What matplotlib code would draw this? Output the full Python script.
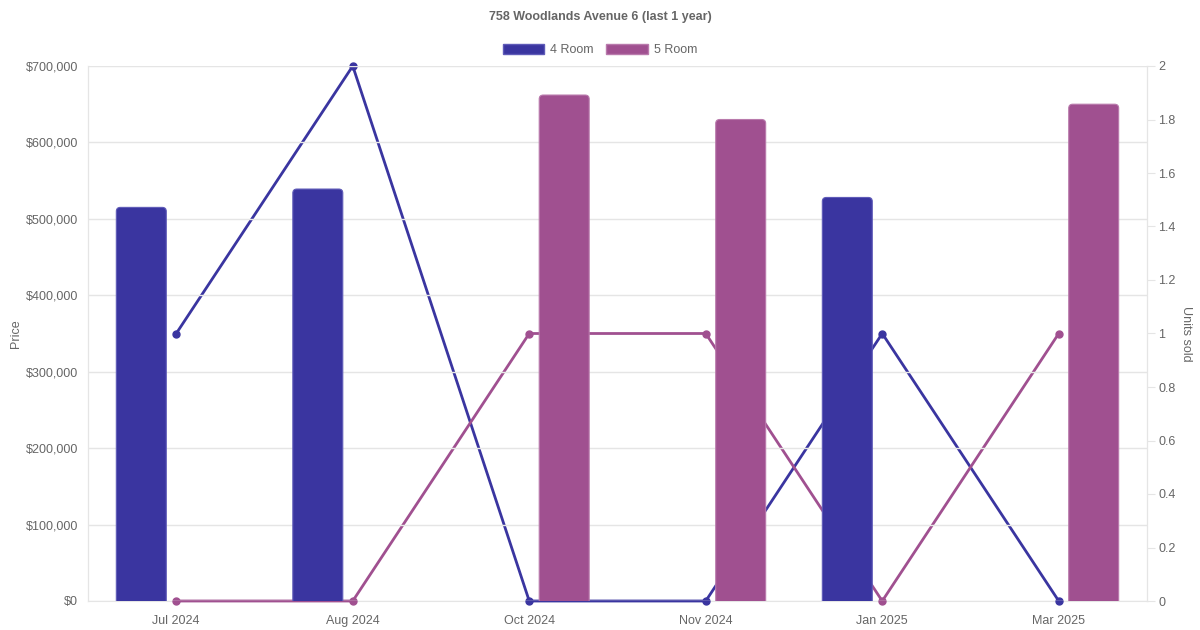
import matplotlib.pyplot as plt
from matplotlib.ticker import FuncFormatter, MultipleLocator
from matplotlib.patches import Patch, FancyBboxPatch
import numpy as np

plt.rcParams['font.family'] = ['Liberation Sans', 'DejaVu Sans']

months = ["Jul 2024", "Aug 2024", "Oct 2024", "Nov 2024", "Jan 2025", "Mar 2025"]
price_4room = [515000, 539000, None, None, 528000, None]
price_5room = [None, None, 662000, 630000, None, 650000]
units_4room = [1, 2, 0, 0, 1, 0]
units_5room = [0, 0, 1, 1, 0, 1]

c4 = '#3a35a0'
c5 = '#a05090'
e4 = '#5f5bb8'
e5 = '#b97aac'
grid_c = '#e5e5e5'
text_c = '#666666'

fig = plt.figure(figsize=(12, 6.3), dpi=100)
ax = fig.add_axes([88/1200, 29/630, 1059/1200, 535/630])
ax2 = ax.twinx()

x = np.arange(len(months))
bw = 0.283
off = 0.198

# units sold lines (right axis), kept under the bars
ax2.plot(x, units_4room, color=c4, lw=2.0, marker='o', ms=5, zorder=3, clip_on=False)
ax2.plot(x, units_5room, color=c5, lw=2.0, marker='o', ms=5, zorder=3, clip_on=False)
ax2.set_ylim(0, 2)
ax2.yaxis.set_major_locator(MultipleLocator(0.2))
ax2.yaxis.set_major_formatter(FuncFormatter(lambda v, p: '0' if v == 0 else '%g' % round(v, 1)))

ax.set_zorder(ax2.get_zorder() + 1)
ax.patch.set_visible(False)
ax.set_xlim(-0.5, len(months) - 0.5)
ax.set_ylim(0, 700000)

x4 = [i - off for i, v in enumerate(price_4room) if v is not None]
v4 = [v for v in price_4room if v is not None]
x5 = [i + off for i, v in enumerate(price_5room) if v is not None]
v5 = [v for v in price_5room if v is not None]
bars4 = ax.bar(x4, v4, width=bw, color=c4, edgecolor=e4, linewidth=0.8, zorder=3)
bars5 = ax.bar(x5, v5, width=bw, color=c5, edgecolor=e5, linewidth=0.8, zorder=3)

# rounded tops like the web chart (~4px radius)
rx = 4 / 176.5
ry = 4 * 700000 / 535
for bars, fc, ec in ((bars4, c4, e4), (bars5, c5, e5)):
    for r in bars:
        bx, bh = r.get_x(), r.get_height()
        r.set_visible(False)
        p = FancyBboxPatch((bx, -ry), r.get_width(), bh + ry,
                           boxstyle='round,pad=0,rounding_size=%f' % rx,
                           mutation_aspect=ry / rx, facecolor=fc, edgecolor=ec,
                           linewidth=0.8, zorder=3)
        ax.add_patch(p)

ax.yaxis.set_major_locator(MultipleLocator(100000))
ax.yaxis.set_major_formatter(FuncFormatter(lambda v, p: '${:,.0f}'.format(v)))
ax.set_xticks(x)
ax.set_xticklabels(months)
ax.grid(axis='y', color=grid_c, lw=1, zorder=0)
ax.set_axisbelow(True)
fig.canvas.draw()
ax.yaxis.get_gridlines()[0].set_visible(False)

for a in (ax, ax2):
    for s in a.spines.values():
        s.set_color(grid_c)
    a.spines['top'].set_visible(False)
    a.tick_params(colors=text_c, labelsize=9)
ax.spines['bottom'].set_visible(False)

ax.tick_params(axis='y', length=0, pad=7)
ax.tick_params(axis='x', length=0, pad=10)
ax2.tick_params(axis='y', length=6, color=grid_c, pad=2)

ax.set_ylabel('Price', color=text_c, fontsize=9, labelpad=3)
ax2.set_ylabel('Units sold', color=text_c, fontsize=9, rotation=270, labelpad=12)

fig.text(0.5, 1 - 17/630, '758 Woodlands Avenue 6 (last 1 year)', ha='center', va='center',
         fontsize=9, fontweight='bold', color=text_c)

handles = [Patch(facecolor=c4, edgecolor=e4, label='4 Room'),
           Patch(facecolor=c5, edgecolor=e5, label='5 Room')]
fig.legend(handles=handles, loc='center', bbox_to_anchor=(0.5, 1 - 50/630),
           ncol=2, frameon=False, fontsize=9, handlelength=3.3, handleheight=0.9,
           columnspacing=1.0, handletextpad=0.5, labelcolor=text_c)

fig.savefig('out.png', dpi=100)
